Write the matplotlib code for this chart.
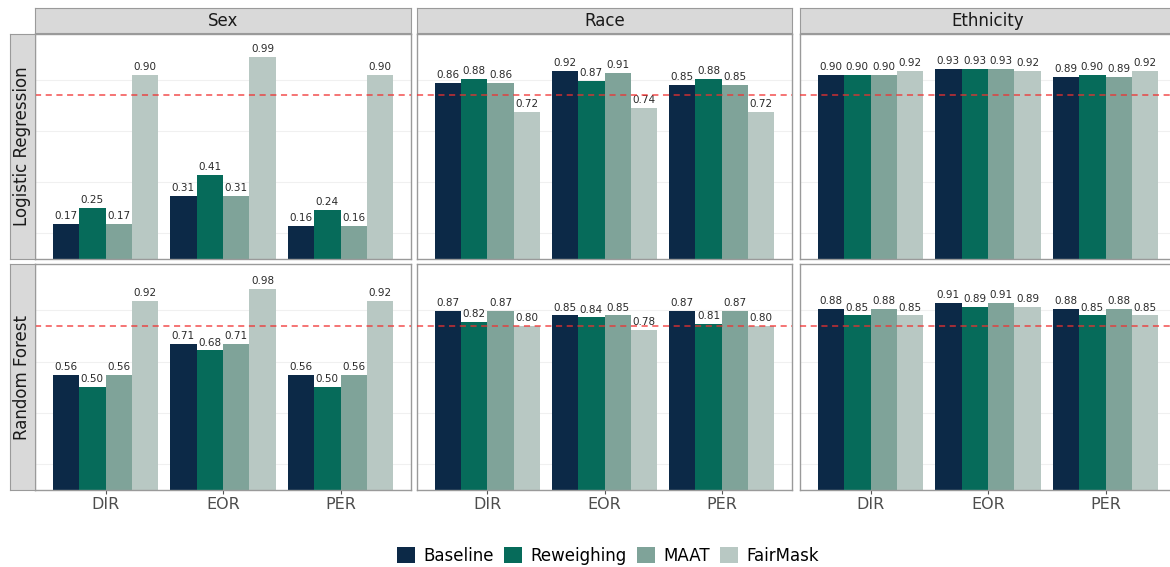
import matplotlib.pyplot as plt
from matplotlib.patches import Patch
import numpy as np

# ---- data: rows = methods, columns = metrics ----
methods = ["Baseline", "Reweighing", "MAAT", "FairMask"]
metrics = ["DIR", "EOR", "PER"]
attributes = ["Sex", "Race", "Ethnicity"]
models = ["Logistic Regression", "Random Forest"]

lr_sex = [[0.17, 0.31, 0.16], [0.25, 0.41, 0.24], [0.17, 0.31, 0.16], [0.90, 0.99, 0.90]]
lr_race = [[0.86, 0.92, 0.85], [0.88, 0.87, 0.88], [0.86, 0.91, 0.85], [0.72, 0.74, 0.72]]
lr_ethnicity = [[0.90, 0.93, 0.89], [0.90, 0.93, 0.90], [0.90, 0.93, 0.89], [0.92, 0.92, 0.92]]
rf_sex = [[0.56, 0.71, 0.56], [0.50, 0.68, 0.50], [0.56, 0.71, 0.56], [0.92, 0.98, 0.92]]
rf_race = [[0.87, 0.85, 0.87], [0.82, 0.84, 0.81], [0.87, 0.85, 0.87], [0.80, 0.78, 0.80]]
rf_ethnicity = [[0.88, 0.91, 0.88], [0.85, 0.89, 0.85], [0.88, 0.91, 0.88], [0.85, 0.89, 0.85]]

values = [[lr_sex, lr_race, lr_ethnicity], [rf_sex, rf_race, rf_ethnicity]]
threshold = 0.8

colors = ["#0c2947", "#066b5a", "#7fa399", "#b8c8c3"]

W, H = 1170, 567
fig = plt.figure(figsize=(W / 100, H / 100), dpi=100)


def px_axes(x0, y0, x1, y1):
    # pixel box (top-left origin) -> figure axes
    return fig.add_axes([x0 / W, 1 - y1 / H, (x1 - x0) / W, (y1 - y0) / H])


col_x = [(35, 411), (417, 792), (800, 1176)]
row_y = [(34, 259), (264, 490)]
border = "#9a9a9a"
strip_bg = "#d9d9d9"

bar_w = 0.225
offsets = (np.arange(4) - 1.5) * bar_w
x = np.arange(len(metrics))

for r, model in enumerate(models):
    for c, attr in enumerate(attributes):
        x0, x1 = col_x[c]
        y0, y1 = row_y[r]
        ax = px_axes(x0, y0, x1, y1)
        data = values[r][c]
        for m in range(len(methods)):
            bars = ax.bar(x + offsets[m], data[m], width=bar_w, color=colors[m],
                          linewidth=0, zorder=2)
            for b, v in zip(bars, data[m]):
                ax.annotate(f"{v:.2f}", (b.get_x() + b.get_width() / 2, v),
                            xytext=(0, 2), textcoords="offset points",
                            ha="center", va="bottom", fontsize=7.5, color="#2a2a2a")
        ax.axhline(threshold, color="#f03030", linestyle=(0, (4, 3)), linewidth=1.1,
                   alpha=0.85, zorder=3)
        for g in [0.125, 0.375, 0.625, 0.875]:
            ax.axhline(g, color="#f0f0f0", linewidth=0.8, zorder=0)
        ax.set_xlim(-0.6, 2.6)
        ax.set_ylim(0, 1.1)
        ax.set_yticks([])
        ax.set_xticks(x)
        if r == 1:
            ax.set_xticklabels(metrics, fontsize=11.5, color="#4d4d4d")
            ax.tick_params(axis="x", length=3, color="#555555", width=0.8, pad=2)
        else:
            ax.set_xticklabels([])
            ax.tick_params(axis="x", length=0)
        for s in ax.spines.values():
            s.set_color(border)
            s.set_linewidth(1)

        # column strip
        if r == 0:
            sx = px_axes(x0, 8, x1, 33)
            sx.set_facecolor(strip_bg)
            sx.set_xticks([])
            sx.set_yticks([])
            for s in sx.spines.values():
                s.set_color(border)
            sx.text(0.5, 0.5, attr, ha="center", va="center", fontsize=12,
                    color="#1a1a1a", transform=sx.transAxes)

    # row strip
    y0, y1 = row_y[r]
    rx = px_axes(10, y0, 35, y1)
    rx.set_facecolor(strip_bg)
    rx.set_xticks([])
    rx.set_yticks([])
    for s in rx.spines.values():
        s.set_color(border)
    rx.text(0.5, 0.5, model, ha="center", va="center", rotation=90, fontsize=12,
            color="#1a1a1a", transform=rx.transAxes)

handles = [Patch(facecolor=col, edgecolor="none", label=lab) for col, lab in zip(colors, methods)]
fig.legend(handles=handles, loc="center", bbox_to_anchor=(608 / W, 1 - 556 / H), ncol=4,
           frameon=False, fontsize=12, handlelength=1.1, handleheight=1.1,
           handletextpad=0.5, columnspacing=0.6)

fig.savefig("out.png", dpi=100)
